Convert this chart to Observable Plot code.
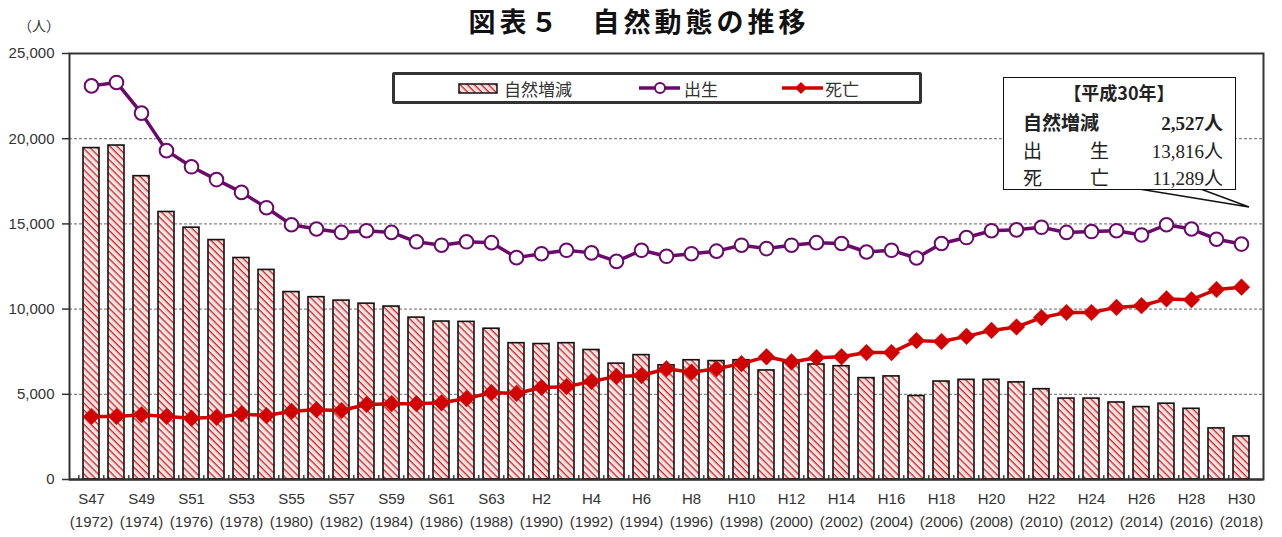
<!DOCTYPE html>
<html><head><meta charset="utf-8">
<script src="https://cdn.jsdelivr.net/npm/d3@7"></script>
<script src="https://cdn.jsdelivr.net/npm/@observablehq/plot@0.6"></script>
<style>
body{margin:0;background:#fff;}
#wrap{position:relative;width:1282px;height:537px;overflow:hidden;font-family:"Noto Sans CJK JP",sans-serif;color:#222;}
#wrap > svg{position:absolute;left:0;top:0;}
.abs{position:absolute;white-space:nowrap;}
#title{left:0;width:1278px;top:2px;text-align:center;font-size:27px;line-height:38px;font-weight:bold;letter-spacing:4px;color:#111;}
#unit{left:18px;top:14px;font-size:14px;line-height:22px;color:#333;}
#legend{left:392px;top:72px;width:530px;height:32px;box-sizing:border-box;border:3px solid #333;border-radius:2px;background:#fff;}
.lg{position:absolute;top:3px;font-size:17px;line-height:22px;color:#333;}
#note{left:1003px;top:77px;width:233px;height:113px;box-sizing:border-box;border:1.5px solid #111;background:#fff;}
.nt{position:absolute;font-size:19px;line-height:26px;color:#222;}
.num{font-family:"Liberation Serif",serif;}
</style></head><body><div id="wrap"></div>
<script>
// ---- data ----
const years = d3.range(1972, 2019);
const natural = [19450,19600,17800,15700,14780,14050,13000,12300,11000,10700,
  10500,10320,10150,9500,9270,9250,8850,8000,7950,8000,
  7600,6800,7300,6700,7000,6950,7000,6400,6850,6750,
  6650,5950,6050,4900,5750,5850,5850,5700,5300,4750,
  4750,4520,4250,4450,4150,3000,2527];
const births = [23100,23300,21500,19300,18350,17600,16850,15950,14950,14700,
  14500,14600,14500,13950,13750,13950,13900,13020,13250,13450,
  13300,12800,13450,13100,13250,13400,13750,13550,13750,13900,
  13850,13350,13450,13000,13850,14200,14600,14650,14800,14500,
  14550,14600,14350,14950,14700,14100,13816];
const deaths = [3700,3700,3800,3700,3600,3650,3850,3750,4000,4100,
  4050,4400,4450,4450,4500,4750,5100,5050,5400,5450,
  5750,6050,6100,6500,6300,6500,6800,7200,6900,7150,
  7200,7450,7450,8150,8100,8400,8750,8950,9500,9800,
  9800,10100,10200,10600,10550,11150,11289];
const tickYears = [1972,1974,1976,1978,1980,1982,1984,1986,1988,1990,1992,1994,
  1996,1998,2000,2002,2004,2006,2008,2010,2012,2014,2016,2018];
const tickLabels = ["S47","S49","S51","S53","S55","S57","S59","S61","S63","H2","H4","H6",
  "H8","H10","H12","H14","H16","H18","H20","H22","H24","H26","H28","H30"];
const yTicks = [0,5000,10000,15000,20000,25000];
const seriesNames = ["自然増減","出生","死亡"];
const noteTitle = "【平成30年】";
const noteValues = ["2,527人","13,816人","11,289人"];

const rows = years.map((year, i) => ({year, natural: natural[i], births: births[i], deaths: deaths[i]}));

const mL = 69, mR = 19, W = 1282;
const pIn = 0.37, pOut = 0.24;
const step = (W - mL - mR) / (years.length - pIn + 2 * pOut);

const purple = "#6a0a6a", red = "#d00000";

const chart = Plot.plot({
  width: W, height: 537,
  marginLeft: mL, marginRight: mR, marginTop: 53, marginBottom: 58,
  style: {fontFamily: "'Liberation Sans', 'Noto Sans CJK JP', sans-serif", fontSize: "15px", color: "#333", background: "transparent", overflow: "visible"},
  x: {type: "band", domain: years, paddingInner: pIn, paddingOuter: pOut, label: null},
  y: {domain: [0, 25000], label: null},
  marks: [
    Plot.gridY(yTicks.slice(1, 5), {stroke: "#666", strokeOpacity: 1, strokeDasharray: "3,2"}),
    Plot.axisY({ticks: yTicks, tickFormat: d3.format(","), tickSize: 7, tickPadding: 8, stroke: "#333", strokeWidth: 1.5, fill: "#333", fontSize: 15, label: null}),
    Plot.axisX({ticks: tickYears, tickFormat: d => tickLabels[tickYears.indexOf(d)] + "\n(" + d + ")", tickSize: 0, tickPadding: 9, lineHeight: 1.5, fill: "#333", fontSize: 15, label: null}),
    Plot.barY(rows, {x: "year", y: "natural", fill: "url(#hatch)", stroke: "#111", strokeWidth: 1.6}),
    Plot.line(rows, {x: "year", y: "births", stroke: purple, strokeWidth: 3.5}),
    Plot.dot(rows, {x: "year", y: "births", r: 6.8, fill: "#fff", stroke: purple, strokeWidth: 2}),
    Plot.line(rows, {x: "year", y: "deaths", stroke: red, strokeWidth: 3.5}),
    Plot.dot(rows, {x: "year", y: "deaths", symbol: "diamond2", r: 7.5, fill: red, stroke: red, strokeWidth: 0.5}),
    Plot.ruleX(rows, {x: "year", dx: -step / 2, y1: 0, y2: 230, stroke: "#111", strokeWidth: 1.2}),
    Plot.ruleY([0], {stroke: "#111", strokeWidth: 2}),
    Plot.frame({stroke: "#333", strokeWidth: 2})
  ]
});

// hatch pattern
const ns = "http://www.w3.org/2000/svg";
const defs = document.createElementNS(ns, "defs");
defs.innerHTML = `<pattern id="hatch" patternUnits="userSpaceOnUse" width="5" height="5" patternTransform="rotate(45)">
  <rect width="5" height="5" fill="#fff"/>
  <rect x="0" y="0" width="5" height="1.5" fill="#dd2020"/>
  <rect x="0" y="2.8" width="5" height="0.6" fill="#c0a8a8"/>
</pattern>`;
chart.insertBefore(defs, chart.firstChild);

const wrap = document.getElementById("wrap");
wrap.appendChild(chart);

// title and unit
const t = document.createElement("div"); t.id = "title"; t.className = "abs"; t.textContent = "図表５　自然動態の推移"; wrap.appendChild(t);
const u = document.createElement("div"); u.id = "unit"; u.className = "abs"; u.textContent = "（人）"; wrap.appendChild(u);

// legend
const lg = document.createElement("div"); lg.id = "legend"; lg.className = "abs";
lg.innerHTML = `
<svg style="position:absolute;left:0;top:0" width="524" height="26">
  <rect x="64" y="9" width="38" height="9" fill="url(#hatch)" stroke="#111" stroke-width="1.5"/>
  <line x1="244" x2="285" y1="13" y2="13" stroke="${purple}" stroke-width="3.5"/>
  <circle cx="265" cy="13" r="5" fill="#fff" stroke="${purple}" stroke-width="2"/>
  <line x1="387" x2="428" y1="13" y2="13" stroke="${red}" stroke-width="3.5"/>
  <path d="M406,7 L412,13 L406,19 L400,13 Z" fill="${red}"/>
</svg>
<span class="lg" style="left:109px">${seriesNames[0]}</span>
<span class="lg" style="left:289px">${seriesNames[1]}</span>
<span class="lg" style="left:430px">${seriesNames[2]}</span>`;
wrap.appendChild(lg);

// callout pointer
const ptr = document.createElementNS(ns, "svg");
ptr.setAttribute("width", W); ptr.setAttribute("height", 537);
ptr.style.position = "absolute"; ptr.style.left = "0"; ptr.style.top = "0";
ptr.innerHTML = `<polygon points="1133,188 1249,207 1198,188" fill="#fff" stroke="#111" stroke-width="1.5"/>`;
wrap.appendChild(ptr);

// note box
const nb = document.createElement("div"); nb.id = "note"; nb.className = "abs";
nb.innerHTML = `
<div class="nt" style="left:0;width:230px;text-align:center;top:1px;font-weight:bold;font-size:18px">${noteTitle}</div>
<div class="nt" style="left:19px;top:31px;font-weight:bold">自然増減</div>
<div class="nt num" style="right:12px;top:31px;font-weight:bold">${noteValues[0].replace("人","")}<span style="font-family:'Noto Sans CJK JP'">人</span></div>
<div class="nt" style="left:19px;top:59px">出</div><div class="nt" style="left:86px;top:59px">生</div>
<div class="nt num" style="right:12px;top:59px">${noteValues[1].replace("人","")}<span style="font-family:'Noto Sans CJK JP'">人</span></div>
<div class="nt" style="left:19px;top:86px">死</div><div class="nt" style="left:86px;top:86px">亡</div>
<div class="nt num" style="right:12px;top:86px">${noteValues[2].replace("人","")}<span style="font-family:'Noto Sans CJK JP'">人</span></div>`;
wrap.appendChild(nb);
</script>
</body></html>
